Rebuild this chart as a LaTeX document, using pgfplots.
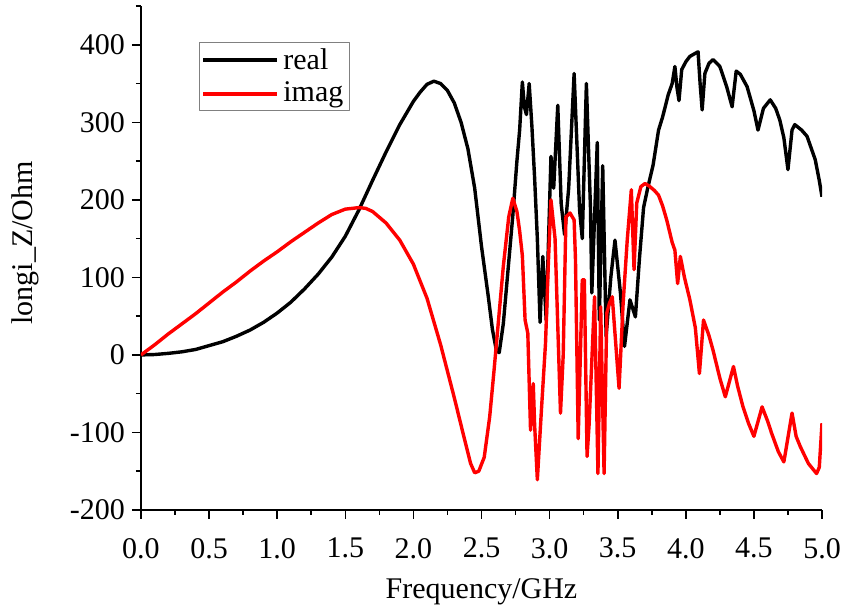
\documentclass[border=0pt]{standalone}
\usepackage{fontspec}
\setmainfont{Liberation Serif}
\usepackage{pgfplots}
\pgfplotsset{compat=1.18}
\pgfplotstableread{
f v
0.00 0
0.10 0.5
0.20 2
0.30 4
0.40 7
0.50 12
0.60 17
0.70 24
0.80 32
0.90 42
1.00 54
1.10 68
1.20 85
1.30 104
1.40 126
1.50 153
1.60 187
1.70 225
1.80 262
1.90 297
2.00 327
2.05 339
2.10 349
2.15 353
2.20 350
2.25 341
2.30 325
2.35 300
2.40 266
2.45 215
2.50 140
2.55 75
2.58 33
2.61 5
2.63 3
2.66 40
2.70 120
2.73 180
2.76 250
2.78 290
2.80 352
2.815 320
2.83 310
2.85 350
2.87 295
2.89 228
2.91 150
2.93 42
2.95 127
2.975 45
3.01 256
3.03 215
3.06 322
3.085 195
3.11 155
3.14 215
3.18 363
3.22 187
3.24 150
3.27 350
3.30 190
3.31 80
3.35 274
3.365 45
3.39 244
3.415 24
3.45 101
3.48 148
3.52 80
3.55 11
3.59 71
3.63 49
3.66 125
3.69 190
3.72 215
3.76 245
3.80 290
3.83 307
3.87 335
3.90 350
3.92 372
3.935 345
3.95 328
3.97 368
4.00 378
4.03 385
4.06 388
4.09 391
4.105 350
4.12 316
4.14 363
4.17 376
4.20 381
4.25 372
4.30 346
4.34 320
4.37 366
4.40 362
4.45 346
4.50 315
4.53 290
4.57 318
4.62 329
4.66 318
4.69 303
4.72 280
4.75 239
4.78 290
4.80 297
4.85 290
4.89 282
4.95 252
4.98 225
5.00 204
}\realdata
\pgfplotstableread{
f v
0.00 0
0.10 13
0.20 27
0.30 40
0.40 53
0.50 67
0.60 81
0.70 94
0.80 108
0.90 121
1.00 133
1.10 146
1.20 158
1.30 170
1.40 181
1.50 188
1.60 190
1.65 189
1.70 185
1.80 170
1.90 148
2.00 117
2.10 73
2.20 13
2.30 -55
2.37 -105
2.42 -140
2.45 -152
2.48 -150
2.52 -132
2.56 -80
2.59 -24
2.62 35
2.66 114
2.70 178
2.73 202
2.76 185
2.78 160
2.80 128
2.82 45
2.84 28
2.86 -97
2.88 -37
2.89 -90
2.91 -161
2.94 -71
2.97 15
2.99 114
3.01 200
3.04 150
3.08 -75
3.10 0
3.12 178
3.15 183
3.18 174
3.19 123
3.21 -108
3.24 97
3.255 97
3.275 -131
3.29 -90
3.33 75
3.355 -153
3.375 62
3.40 -153
3.42 54
3.44 67
3.46 75
3.51 -43
3.54 67
3.57 148
3.60 213
3.62 110
3.64 196
3.67 217
3.70 221
3.73 218
3.77 212
3.80 206
3.83 192
3.86 174
3.90 145
3.92 135
3.94 92
3.96 127
3.99 100
4.03 71
4.07 35
4.10 -24
4.13 45
4.17 25
4.20 6
4.25 -30
4.29 -54
4.35 -15
4.38 -40
4.42 -67
4.46 -88
4.50 -105
4.56 -67
4.60 -85
4.63 -101
4.68 -125
4.72 -138
4.78 -75
4.81 -105
4.84 -118
4.90 -140
4.96 -153
4.98 -145
5.00 -88
}\imagdata
\begin{document}
\begin{tikzpicture}
\path[use as bounding box] (-70.5pt,-51.5pt) rectangle (357.5pt,255pt);
\begin{axis}[
  at={(0,0)}, anchor=south west,
  scale only axis, width=340.5pt, height=252pt,
  xmin=0, xmax=5, ymin=-200, ymax=450,
  axis x line*=bottom, axis y line*=left,
  axis line style={line width=1pt},
  xtick={0,0.5,...,5.01}, minor xtick={0.25,0.75,...,4.8},
  ytick={-200,-100,...,400}, minor ytick={-150,-50,...,450},
  tick align=outside, major tick length=4.5pt, minor tick length=2.5pt,
  every tick/.style={line width=0.8pt, black},
  /pgf/number format/assume math mode=true,
  xticklabel style={yshift=-6pt, /pgf/number format/.cd, fixed, fixed zerofill, precision=1},
  yticklabel style={/pgf/number format/.cd, fixed, precision=0},
  tick label style={font=\fontsize{15}{18}\selectfont},
  xlabel={Frequency/GHz}, ylabel={longi\_Z/Ohm},
  every axis x label/.style={at={(axis description cs:0.5,-0.1627)}, anchor=center, font=\fontsize{15}{18}\selectfont},
  every axis y label/.style={at={(axis description cs:-0.170,0.53)}, rotate=90, anchor=center, font=\fontsize{15}{18}\selectfont},
  legend style={at={(axis description cs:0.085,0.929)}, anchor=north west,
    draw=gray, line width=0.5pt, font=\fontsize{15}{18}\selectfont,
    inner sep=1pt, row sep=1pt, cells={anchor=west}},
  legend image code/.code={\draw[#1, line width=2pt] (0pt,0pt) -- (37pt,0pt);},
  line join=round,
]
\addplot[black, line width=1.7pt] table[x=f, y=v] {\realdata};
\addlegendentry{real}
\addplot[red, line width=1.7pt] table[x=f, y=v] {\imagdata};
\addlegendentry{imag}
\end{axis}
\end{tikzpicture}
\end{document}
